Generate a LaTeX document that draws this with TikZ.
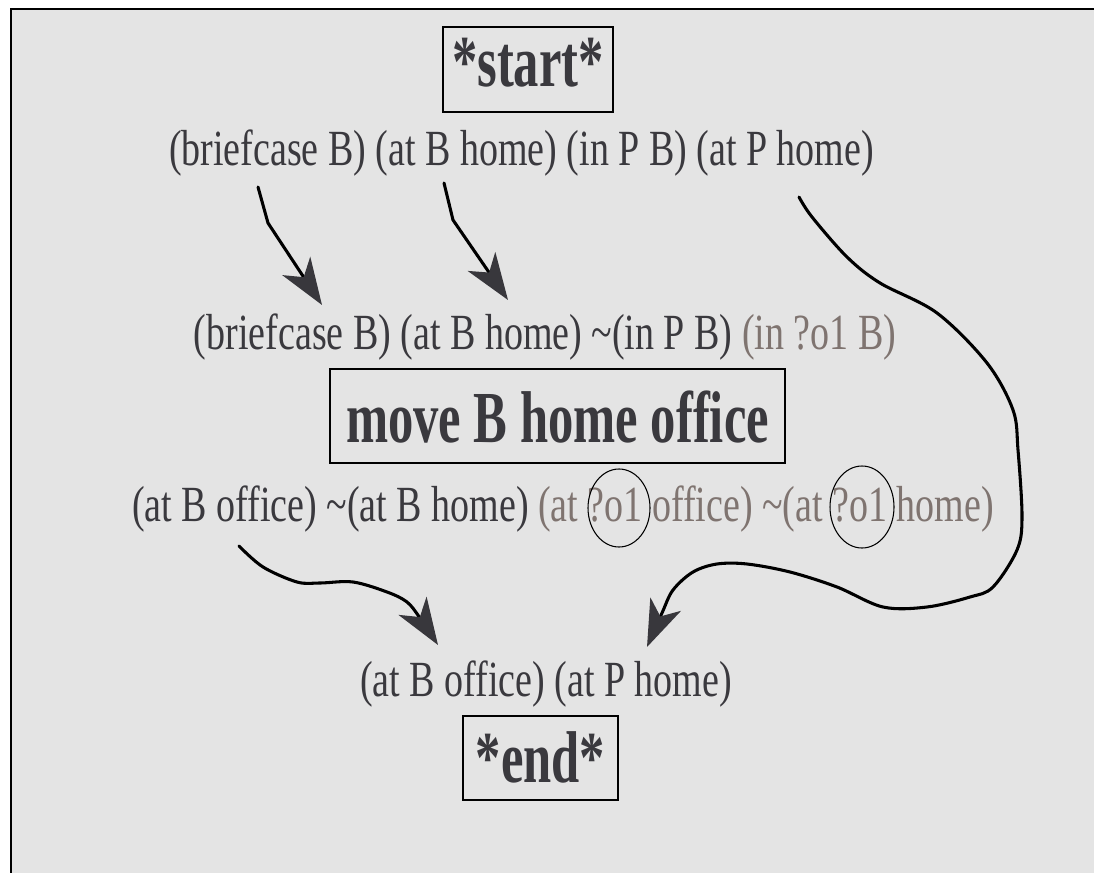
\documentclass[tikz,border=0pt]{standalone}
\usepackage{fontspec}
\newfontfamily\regf{Liberation Serif}[FakeStretch=0.75]
\newfontfamily\boldf{Liberation Serif}[FakeStretch=0.69]
\usetikzlibrary{arrows.meta}
\definecolor{bgc}{HTML}{E4E4E4}
\definecolor{txt}{HTML}{3A393E}
\definecolor{vartxt}{HTML}{7F7470}
\definecolor{tipc}{HTML}{38373C}
\tikzset{
  cond/.style={inner sep=0pt, anchor=base, text=txt, font=\regf\fontsize{38pt}{42pt}\selectfont},
  actbox/.style={draw=black, line width=1.6pt, inner sep=0pt, anchor=base, text=txt,
                 font=\boldf\bfseries\fontsize{55pt}{59pt}\selectfont},
  link/.style={draw=black, line width=2.3pt, line join=round, line cap=round,
               -{Stealth[length=35pt,width=25pt,inset=10pt,color=tipc]}},
  varring/.style={draw=black, line width=0.8pt}
}
\begin{document}
\begin{tikzpicture}[x=0.75pt,y=-0.75pt]
\useasboundingbox (0,0) rectangle (1094,873);
\fill[bgc] (11,9) rectangle (1094,873);
\draw[line width=1.3pt] (11,873) -- (11,9) -- (1094,9);

% boxes
\node[actbox, minimum width=127.5pt, text height=45pt, text depth=18.75pt] (start) at (528,87) {*start*};
\node[actbox, minimum width=341.25pt, text height=54.75pt, text depth=15.75pt] (move) at (557.5,442) {move B home office};
\node[actbox, minimum width=116.25pt, text height=49.5pt, text depth=13.5pt] (end) at (540.5,782) {*end*};

% condition lines
\node[cond] (init) at (521.5,166) {(briefcase B) (at B home) (in P B) (at P home)};
\node[cond] (pre) at (545,349) {(briefcase B) (at B home) \textasciitilde(in P B) \textcolor{vartxt}{(in ?o1 B)}};
\node[cond] (eff) at (563,521) {(at B office) \textasciitilde(at B home) \textcolor{vartxt}{(at ?o1 office) \textasciitilde(at ?o1 home)}};
\node[cond] (goal) at (546,696) {(at B office) (at P home)};

% rings round ?o1
\draw[varring] (619,508) ellipse [x radius=31, y radius=39];
\draw[varring] (862,507) ellipse [x radius=32, y radius=41];

% connector ends
\coordinate (l1s) at (258,187);
\coordinate (l1e) at (322,305);
\coordinate (l2s) at (444,183);
\coordinate (l2e) at (508,300);
\coordinate (l3s) at (799,197);
\coordinate (l3e) at (647,647);
\coordinate (l4s) at (239,546);
\coordinate (l4e) at (438,645);

\draw[link] (l1s) -- (268,223) -- (l1e);
\draw[link] (l2s) -- (453,220) -- (l2e);
\draw[link] plot[smooth, tension=0.55] coordinates {(l3s) (812,217) (847,257) (880,283) (937,313) (987,363) (1013,410) (1018,450) (1022,517) (1017,550) (993,587) (970,597) (927,607) (883,607) (837,587) (790,572) (747,564) (717,564) (693,572) (673,590) (662,613) (l3e)};
\draw[link] plot[smooth, tension=0.55] coordinates {(l4s) (263,567) (297,582) (320,583) (353,582) (387,592) (407,602) (420,618) (l4e)};
\end{tikzpicture}
\end{document}
